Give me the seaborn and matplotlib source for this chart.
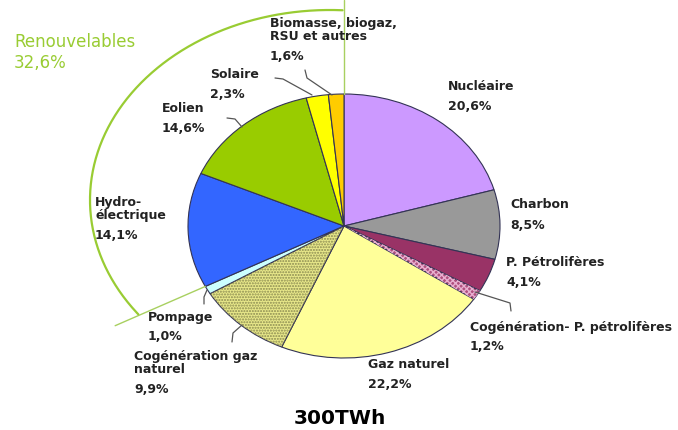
import numpy as np
import matplotlib
matplotlib.use("Agg")
import matplotlib.pyplot as plt
from matplotlib.patches import Wedge
import seaborn as sns

# ── data ─────────────────────────────────────────────────────────────────────
sources = [
    "Nucléaire", "Charbon", "P. Pétrolifères", "Cogénération- P. pétrolifères",
    "Gaz naturel", "Cogénération gaz\nnaturel", "Pompage", "Hydro-\nélectrique",
    "Eolien", "Solaire", "Biomasse, biogaz,\nRSU et autres",
]
shares = [20.6, 8.5, 4.1, 1.2, 22.2, 9.9, 1.0, 14.1, 14.6, 2.3, 1.6]
colors = ["#CC99FF", "#999999", "#993366", "#B0507F", "#FFFF99", "#E8E88A",
          "#CCFFFF", "#3366FF", "#99CC00", "#FFFF00", "#FFCC00"]
renewables = ["Hydro-\nélectrique", "Eolien", "Solaire", "Biomasse, biogaz,\nRSU et autres"]
total_label = "300TWh"

# ── layout (pixels of the 678x430 canvas) ────────────────────────────────────
W, H = 678, 430
CX, CY, RX, RY = 344, 226, 156, 132      # pie ellipse


def fig_xy(x, y):
    return x / W, 1 - y / H


def pie_xy(r, ang):
    a = np.deg2rad(ang)
    return r * np.cos(a), r * np.sin(a)


label_pos = {
    "Nucléaire": (448, 87),
    "Charbon": (510, 205),
    "P. Pétrolifères": (506, 262),
    "Cogénération- P. pétrolifères": (470, 327),
    "Gaz naturel": (368, 365),
    "Cogénération gaz\nnaturel": (134, 363),
    "Pompage": (148, 317),
    "Hydro-\nélectrique": (95, 209),
    "Eolien": (162, 108),
    "Solaire": (210, 74),
    "Biomasse, biogaz,\nRSU et autres": (270, 30),
}
leaders = [
    [(305, 70), (307, 78), (332, 95)],
    [(275, 78), (283, 79), (312, 95)],
    [(227, 118), (235, 119), (242, 127)],
    [(207, 290), (204, 297), (204, 304)],
    [(242, 325), (233, 333), (232, 342)],
    [(475, 292), (510, 303), (511, 311)],
]

sns.set_theme(style="white")
plt.rcParams["font.family"] = ["DejaVu Sans"]

fig = plt.figure(figsize=(W / 100, H / 100), dpi=100)
fig.patch.set_facecolor("white")
ax = fig.add_axes([0, 0, 1, 1])

wedges, _ = ax.pie(
    shares, colors=colors, startangle=90, counterclock=False,
    wedgeprops=dict(edgecolor="#333355", linewidth=0.8),
)
ax.set_aspect("auto")
ax.set_xlim(-CX / RX, (W - CX) / RX)
ax.set_ylim((CY - H) / RY, CY / RY)
ax.axis("off")

# dotted fills for the two cogeneration slices
for idx, hcol, hatch in [(3, "#E8B0D0", "xxxxxx"), (5, "#8A8A50", "......")]:
    w = wedges[idx]
    ax.add_patch(Wedge(w.center, w.r, w.theta1, w.theta2, facecolor="none",
                       edgecolor=hcol, linewidth=0, hatch=hatch))

# renewables bracket: radial line at hydro start, top line and arc
cum = np.cumsum([0] + shares) / sum(shares)
start_ren = cum[sources.index(renewables[0])]
ang = 90 - 360 * start_ren
x0, y0 = pie_xy(1.0, ang)
x1, y1 = pie_xy(1.65, ang)
ax.plot([x0, x1], [y0, y1], color="#A8D060", lw=1.0)
ax.plot([0, 0], [1.0, CY / RY], color="#A8D060", lw=1.0)

t = np.deg2rad(np.linspace(87, 217, 200))
arc_x = 330 + 240 * np.cos(t)
arc_y = 200 - 190 * np.sin(t)
ax.plot((arc_x - CX) / RX, (CY - arc_y) / RY, color="#99CC33", lw=1.6)

# leader lines
for pts in leaders:
    xs = [fig_xy(*p)[0] for p in pts]
    ys = [fig_xy(*p)[1] for p in pts]
    ax.plot(xs, ys, color="#555555", lw=0.9, transform=fig.transFigure)

# slice labels
for name, val in zip(sources, shares):
    x, y = label_pos[name]
    n_lines = name.count("\n")
    fig.text(*fig_xy(x, y), name, ha="left", va="center", fontsize=9,
             fontweight="bold", color="#222222", linespacing=1.0)
    vy = y + 20 + n_lines * 6.5
    fig.text(*fig_xy(x, vy), f"{val:.1f}".replace(".", ",") + "%", ha="left",
             va="center", fontsize=9, fontweight="bold", color="#222222")

ren_total = sum(shares[sources.index(n)] for n in renewables)
fig.text(*fig_xy(14, 42), "Renouvelables", ha="left", va="center",
         fontsize=12, color="#99CC33")
fig.text(*fig_xy(14, 63), f"{ren_total:.1f}".replace(".", ",") + "%",
         ha="left", va="center", fontsize=12, color="#99CC33")

fig.text(*fig_xy(340, 418), total_label, ha="center", va="center",
         fontsize=14.5, fontweight="bold", color="black")

fig.savefig("out.png", dpi=100)
plt.close(fig)
